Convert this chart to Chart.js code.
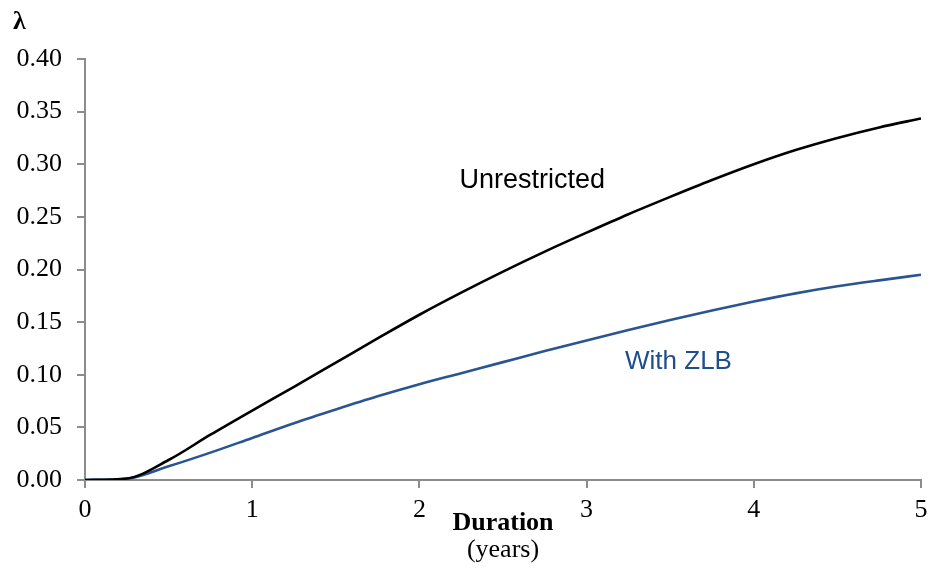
<!DOCTYPE html>
<html>
<head>
<meta charset="utf-8">
<script src="https://cdn.jsdelivr.net/npm/chart.js@4.4.1/dist/chart.umd.min.js"></script>
<style>
  html, body { margin: 0; padding: 0; background: #fff; }
  #wrap { width: 930px; height: 571px; }
</style>
</head>
<body>
<div id="wrap"><canvas id="lambdaChart" width="930" height="571"></canvas></div>
<script>
// duration in years (x) and lambda
const durations = [0, 0.25, 0.5, 0.75, 1, 1.25, 1.5, 1.75, 2, 2.25, 2.5, 2.75, 3, 3.25, 3.5, 3.75, 4, 4.25, 4.5, 4.75, 5];
const unrestricted = [0, 0.0015, 0.019, 0.043, 0.066, 0.0885, 0.1115, 0.1345, 0.157, 0.178, 0.198, 0.217, 0.235, 0.2525, 0.269, 0.285, 0.300, 0.3135, 0.325, 0.335, 0.3435];
const withZlb = [0, 0.0012, 0.013, 0.026, 0.040, 0.054, 0.067, 0.0795, 0.091, 0.1015, 0.112, 0.1225, 0.1325, 0.1425, 0.152, 0.161, 0.1695, 0.1773, 0.184, 0.1897, 0.195];
const xTicks = [0, 1, 2, 3, 4, 5];
const yTicks = [0, 0.05, 0.10, 0.15, 0.20, 0.25, 0.30, 0.35, 0.40];

const serif = '"Liberation Serif", "Times New Roman", serif';
const sans = '"Liberation Sans", Arial, sans-serif';
const axisGrey = '#8c8c8c';
const blue = '#2a5592';

function toPoints(ys) {
  return durations.map(function (x, i) { return { x: x, y: ys[i] }; });
}

// texts in the plot: series labels, lambda and the x-axis caption
const labelPlugin = {
  id: 'labels',
  afterDraw: function (chart) {
    const c = chart.ctx;
    const xs = chart.scales.x;
    const ys = chart.scales.y;
    c.save();
    c.textBaseline = 'alphabetic';
    c.textAlign = 'left';

    c.font = '27px ' + sans;
    c.fillStyle = '#000';
    c.fillText('Unrestricted', xs.getPixelForValue(2.24), ys.getPixelForValue(0.277));
    c.font = '26px ' + sans;
    c.fillStyle = '#1f4e8c';
    c.fillText('With ZLB', xs.getPixelForValue(3.23), ys.getPixelForValue(0.105));

    c.fillStyle = '#000';
    c.font = 'bold 26px ' + serif;
    c.fillText('λ', 13, 29);

    c.textAlign = 'center';
    const mid = (chart.chartArea.left + chart.chartArea.right) / 2;
    c.font = 'bold 26px ' + serif;
    c.fillText('Duration', mid, 530);
    c.font = '26px ' + serif;
    c.fillText('(years)', mid, 557);
    c.restore();
  }
};

new Chart(document.getElementById('lambdaChart'), {
  type: 'scatter',
  data: {
    datasets: [
      {
        label: 'Unrestricted',
        data: toPoints(unrestricted),
        showLine: true,
        borderColor: '#000',
        borderWidth: 2.6,
        pointRadius: 0,
        cubicInterpolationMode: 'monotone'
      },
      {
        label: 'With ZLB',
        data: toPoints(withZlb),
        showLine: true,
        borderColor: blue,
        borderWidth: 2.6,
        pointRadius: 0,
        cubicInterpolationMode: 'monotone'
      }
    ]
  },
  options: {
    responsive: false,
    animation: false,
    layout: { padding: { top: 59, right: 9, left: 0, bottom: 0 } },
    plugins: {
      legend: { display: false },
      tooltip: { enabled: false }
    },
    scales: {
      x: {
        type: 'linear',
        min: 0,
        max: 5,
        afterBuildTicks: function (scale) {
          scale.ticks = xTicks.map(function (v) { return { value: v }; });
        },
        afterFit: function (scale) {
          scale.height = 91;
          scale.paddingRight = 0;
        },
        ticks: {
          font: { family: serif, size: 26 },
          color: '#000',
          padding: 7,
          maxRotation: 0,
          callback: function (v) { return String(v); }
        },
        grid: { drawOnChartArea: false, color: axisGrey, tickLength: 8, lineWidth: 2 },
        border: { color: axisGrey, width: 2 }
      },
      y: {
        type: 'linear',
        min: 0,
        max: 0.40,
        afterBuildTicks: function (scale) {
          scale.ticks = yTicks.map(function (v) { return { value: v }; });
        },
        afterFit: function (scale) { scale.width = 85; },
        ticks: {
          font: { family: serif, size: 26 },
          color: '#000',
          padding: 15,
          callback: function (v) { return v.toFixed(2); }
        },
        grid: { drawOnChartArea: false, color: axisGrey, tickLength: 8, lineWidth: 2 },
        border: { color: axisGrey, width: 2 }
      }
    }
  },
  plugins: [labelPlugin]
});
</script>
</body>
</html>
